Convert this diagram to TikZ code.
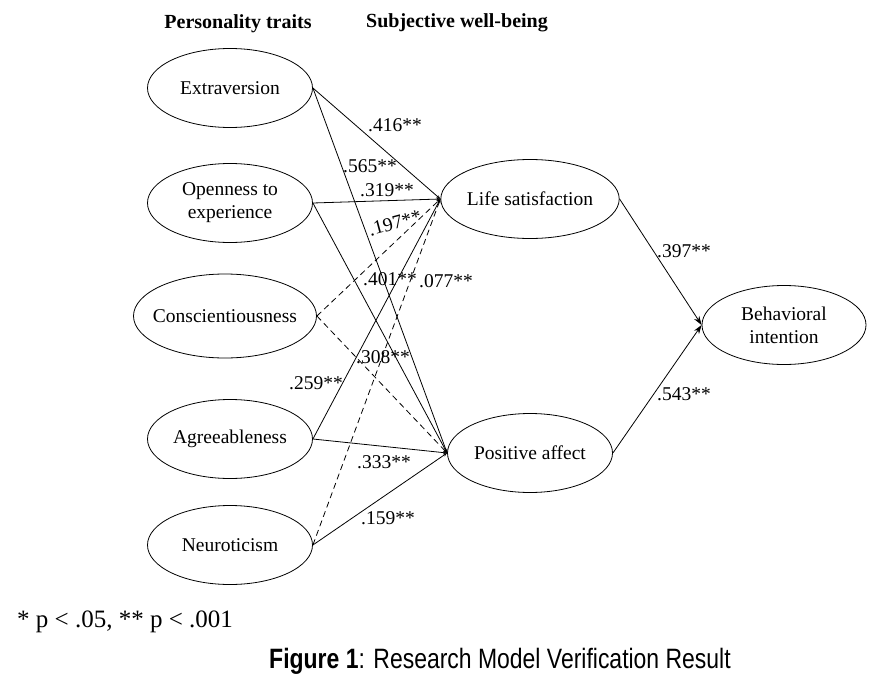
\documentclass[tikz,border=0pt]{standalone}
\usepackage{fontspec}
\setmainfont{Liberation Serif}
\newfontfamily\capfont[FakeStretch=0.82]{Liberation Sans}
\usetikzlibrary{arrows.meta,shapes.geometric}
\tikzset{
  >={Stealth[length=9pt,width=6pt]},
  factor/.style={ellipse, draw, line width=.8pt, minimum width=165pt, minimum height=79pt,
    inner sep=0pt, align=center, font=\fontsize{19.5}{23}\selectfont},
  link/.style={-{Stealth[length=4pt,width=3pt]}, line width=.8pt},
  weak/.style={link, dash pattern=on 6pt off 4pt},
  coef/.style={font=\fontsize{19.5}{22}\selectfont, inner sep=0pt},
  head/.style={font=\bfseries\fontsize{20}{22}\selectfont}
}

\begin{document}
\begin{tikzpicture}[x=1pt,y=-1pt]
\useasboundingbox (0,0) rectangle (875,685);

% Headings
\node[head] (hpers) at (238,24) {Personality traits};
\node[head] (hswb) at (457,23) {Subjective well-being};

% Personality traits
\node[factor] (extra) at (230,88) {Extraversion};
\node[factor] (open) at (230,203) {Openness to\\experience};
\node[factor, inner xsep=-18pt, minimum width=183pt, minimum height=84pt] (consc) at (225,316) {Conscientiousness};
\node[factor] (agree) at (230,439) {Agreeableness};
\node[factor] (neuro) at (230,545) {Neuroticism};

% Subjective well-being
\node[factor] (life) at (530,199) {Life satisfaction};
\node[factor] (pos) at (530,453) {Positive affect};

% Outcome
\node[factor, minimum width=164pt] (behav) at (784,325) {Behavioral\\intention};

% Paths to well-being
\draw[link] (extra.east) -- (life.west);
\draw[link] (extra.east) -- (pos.west);
\draw[link] (open.east) -- (life.west);
\draw[link] (open.east) -- (pos.west);
\draw[weak] (consc.east) -- (life.west);
\draw[weak] (consc.east) -- (pos.west);
\draw[link] (agree.east) -- (life.west);
\draw[link] (agree.east) -- (pos.west);
\draw[weak] (neuro.east) -- (life.west);
\draw[link] (neuro.east) -- (pos.west);

% Paths to intention
\draw[->, line width=.8pt] (life.east) -- (behav.west);
\draw[->, line width=.8pt] (pos.east) -- (behav.west);

% Coefficients
\node[coef] (c416) at (395,125) {.416**};
\node[coef] (c565) at (370,166) {.565**};
\node[coef] (c319) at (387,190) {.319**};
\node[coef, rotate=15] (c197) at (395,223) {.197**};
\node[coef] (c401) at (390,279) {.401**};
\node[coef] (c077) at (446,281) {.077**};
\node[coef] (c308) at (383,357) {.308**};
\node[coef] (c259) at (316,383) {.259**};
\node[coef] (c333) at (384,462) {.333**};
\node[coef] (c159) at (388,518) {.159**};
\node[coef] (c397) at (684,251) {.397**};
\node[coef] (c543) at (684,394) {.543**};

% Note and caption
\node[anchor=west, font=\fontsize{25}{28}\selectfont, inner sep=0pt] (note) at (17,622) {* p < .05, ** p < .001};
\node[font=\capfont\fontsize{28}{30}\selectfont] (caption) at (500,661)
  {\textbf{Figure 1}: Research Model Verification Result};

\end{tikzpicture}
\end{document}
